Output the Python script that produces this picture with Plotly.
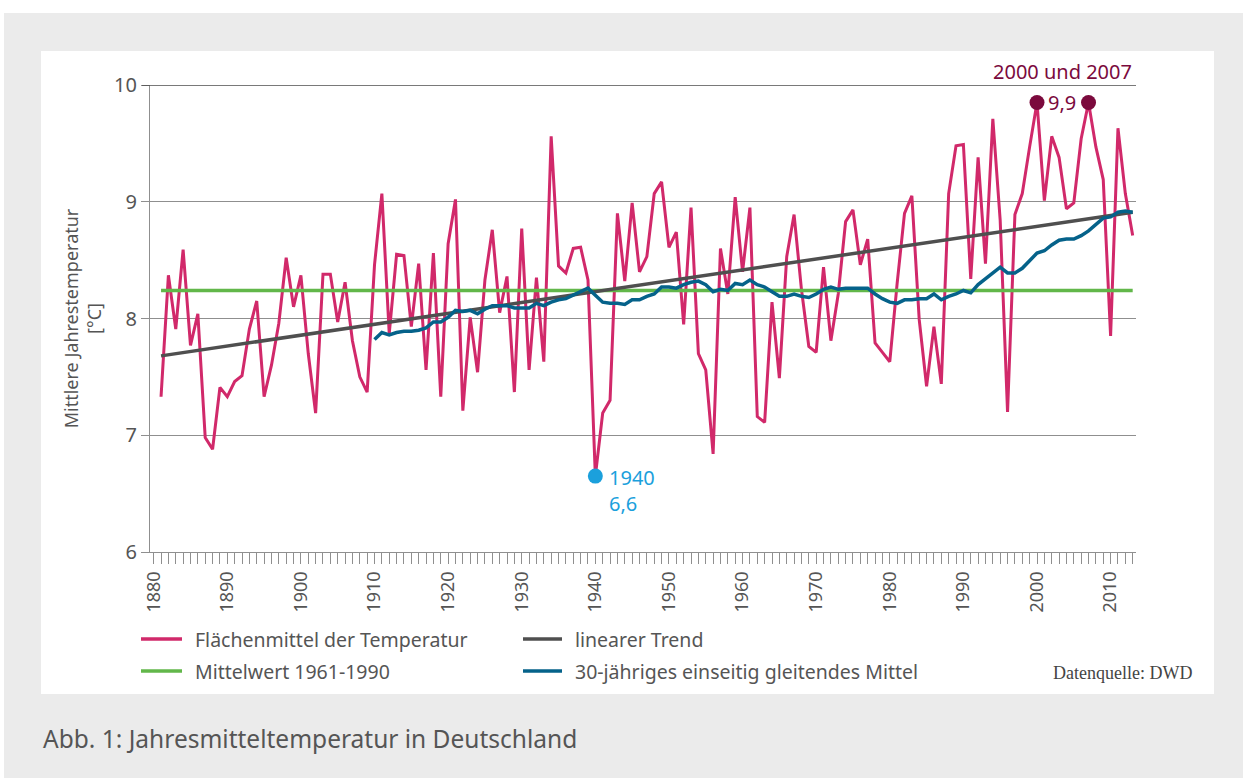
import plotly.graph_objects as go

# ---------------- data ----------------
years = list(range(1881, 2014))
temperature = [
    7.33, 8.37, 7.91, 8.59, 7.77, 8.04, 6.98, 6.88, 7.41, 7.33,   # 1881-1890
    7.46, 7.51, 7.91, 8.15, 7.33, 7.60, 7.96, 8.52, 8.10, 8.37,   # 1891-1900
    7.70, 7.19, 8.38, 8.38, 7.97, 8.31, 7.81, 7.50, 7.37, 8.46,   # 1901-1910
    9.07, 7.87, 8.55, 8.54, 7.93, 8.47, 7.56, 8.56, 7.33, 8.64,   # 1911-1920
    9.02, 7.21, 8.01, 7.54, 8.33, 8.76, 8.05, 8.36, 7.37, 8.77,   # 1921-1930
    7.56, 8.35, 7.63, 9.56, 8.45, 8.39, 8.60, 8.61, 8.33, 6.65,   # 1931-1940
    7.19, 7.30, 8.90, 8.32, 8.99, 8.40, 8.53, 9.07, 9.17, 8.61,   # 1941-1950
    8.74, 7.95, 8.95, 7.70, 7.56, 6.84, 8.60, 8.21, 9.04, 8.40,   # 1951-1960
    8.95, 7.16, 7.11, 8.14, 7.49, 8.53, 8.89, 8.25, 7.76, 7.71,   # 1961-1970
    8.44, 7.81, 8.21, 8.83, 8.93, 8.46, 8.68, 7.79, 7.71, 7.63,   # 1971-1980
    8.30, 8.90, 9.05, 7.99, 7.42, 7.93, 7.44, 9.07, 9.48, 9.49,   # 1981-1990
    8.34, 9.38, 8.47, 9.71, 8.84, 7.20, 8.89, 9.07, 9.47, 9.85,   # 1991-2000
    9.01, 9.56, 9.38, 8.94, 8.99, 9.54, 9.85, 9.47, 9.19, 7.85,   # 2001-2010
    9.63, 9.07, 8.71,                                             # 2011-2013
]

mean_years = list(range(1910, 2014))
running_mean = [
    7.82,                                                          # 1910
    7.88, 7.86, 7.88, 7.89, 7.89, 7.90, 7.92, 7.97, 7.97, 8.01,   # 1911-1920
    8.07, 8.06, 8.07, 8.04, 8.08, 8.11, 8.11, 8.11, 8.09, 8.09,   # 1921-1930
    8.09, 8.13, 8.11, 8.14, 8.16, 8.17, 8.20, 8.23, 8.26, 8.20,   # 1931-1940
    8.14, 8.13, 8.13, 8.12, 8.16, 8.16, 8.19, 8.21, 8.27, 8.27,   # 1941-1950
    8.26, 8.29, 8.31, 8.32, 8.29, 8.23, 8.25, 8.24, 8.30, 8.29,   # 1951-1960
    8.33, 8.29, 8.27, 8.23, 8.19, 8.19, 8.21, 8.19, 8.18, 8.21,   # 1961-1970
    8.25, 8.27, 8.25, 8.26, 8.26, 8.26, 8.26, 8.21, 8.17, 8.14,   # 1971-1980
    8.13, 8.16, 8.16, 8.17, 8.17, 8.21, 8.16, 8.19, 8.21, 8.24,   # 1981-1990
    8.22, 8.29, 8.34, 8.39, 8.44, 8.39, 8.39, 8.43, 8.49, 8.56,   # 1991-2000
    8.58, 8.63, 8.67, 8.68, 8.68, 8.71, 8.75, 8.81, 8.86, 8.87,   # 2001-2010
    8.91, 8.92, 8.91,                                             # 2011-2013
]

trend_years = [1881, 2013]
trend_values = [7.68, 8.91]

reference_years = [1881, 2013]
reference_mean = [8.24, 8.24]   # Mittelwert 1961-1990

min_year = [1940]
min_value = [6.65]
max_years = [2000, 2007]
max_values = [9.85, 9.85]

x_tick_labels = [str(y) for y in range(1880, 2011, 10)]
y_tick_labels = ["6", "7", "8", "9", "10"]

legend_labels = [
    "Flächenmittel der Temperatur",
    "Mittelwert 1961-1990",
    "linearer Trend",
    "30-jähriges einseitig gleitendes Mittel",
]

assert len(years) == len(temperature)
assert len(mean_years) == len(running_mean)

# ---------------- styling ----------------
PINK = "#d1296a"
GREEN = "#62b74a"
TREND = "#4f4f4f"
BLUE = "#05628a"
LIGHTBLUE = "#1ba0dc"
MAROON = "#7b0a3d"
TEXT = "#555555"
GRID = "#8f8f8f"
FONT = "Noto Sans"

W, H = 1243, 778
L, R, T, B = 150, 1243 - 1136, 85, 778 - 552
PW, PH = W - L - R, H - T - B


def px(x):
    return (x - L) / PW


def py(y):
    return (H - B - y) / PH


fig = go.Figure()

fig.add_trace(go.Scatter(x=years, y=temperature, mode="lines",
                         line=dict(color=PINK, width=3), name=legend_labels[0],
                         showlegend=False))
fig.add_trace(go.Scatter(x=reference_years, y=reference_mean, mode="lines",
                         line=dict(color=GREEN, width=3.5), name=legend_labels[1],
                         showlegend=False))
fig.add_trace(go.Scatter(x=trend_years, y=trend_values, mode="lines",
                         line=dict(color=TREND, width=3.5), name=legend_labels[2],
                         showlegend=False))
fig.add_trace(go.Scatter(x=mean_years, y=running_mean, mode="lines",
                         line=dict(color=BLUE, width=3.5), name=legend_labels[3],
                         showlegend=False))
fig.add_trace(go.Scatter(x=min_year, y=min_value, mode="markers",
                         marker=dict(color=LIGHTBLUE, size=15), showlegend=False))
fig.add_trace(go.Scatter(x=max_years, y=max_values, mode="markers",
                         marker=dict(color=MAROON, size=15), showlegend=False))

shapes = []
# outer gray frame and white panel
shapes.append(dict(type="rect", xref="paper", yref="paper", layer="below",
                   x0=px(4), x1=px(W + 2), y0=py(13), y1=py(H + 2),
                   fillcolor="#ebebeb", line=dict(width=0)))
shapes.append(dict(type="rect", xref="paper", yref="paper", layer="below",
                   x0=px(41), x1=px(1214), y0=py(51), y1=py(694),
                   fillcolor="#ffffff", line=dict(width=0)))
# dark top gridline at 10
shapes.append(dict(type="line", xref="paper", yref="y", layer="above",
                   x0=px(142), x1=1, y0=10, y1=10,
                   line=dict(color="#4d4d4d", width=1.6)))

# legend lines
legend_rows = [639, 671]
legend_cols = [(141, 182, 193), (523, 562, 573)]
legend_colors = [PINK, GREEN, TREND, BLUE]
annotations = []
for i, label in enumerate(legend_labels):
    col = i // 2
    row = i % 2
    x0, x1, xt = legend_cols[col]
    y = legend_rows[row]
    shapes.append(dict(type="line", xref="paper", yref="paper",
                       x0=px(x0), x1=px(x1), y0=py(y), y1=py(y),
                       line=dict(color=legend_colors[i], width=3.5)))
    annotations.append(dict(text=label, xref="paper", yref="paper",
                            x=px(xt), y=py(y), xanchor="left", yanchor="middle",
                            showarrow=False, font=dict(family=FONT, size=19.5, color=TEXT)))

annotations += [
    dict(text="Datenquelle: DWD", xref="paper", yref="paper", x=px(1194), y=py(673),
         xanchor="right", yanchor="middle", showarrow=False,
         font=dict(family="Liberation Serif", size=18, color="#444444")),
    dict(text="Abb. 1: Jahresmitteltemperatur in Deutschland", xref="paper", yref="paper",
         x=px(41), y=py(738), xanchor="left", yanchor="middle", showarrow=False,
         font=dict(family=FONT, size=24.5, color=TEXT)),
    dict(text="1940", xref="paper", yref="paper", x=px(607), y=py(477),
         xanchor="left", yanchor="middle", showarrow=False,
         font=dict(family=FONT, size=20, color=LIGHTBLUE)),
    dict(text="6,6", xref="paper", yref="paper", x=px(607), y=py(503),
         xanchor="left", yanchor="middle", showarrow=False,
         font=dict(family=FONT, size=20, color=LIGHTBLUE)),
    dict(text="9,9", xref="paper", yref="paper", x=px(1062), y=py(102),
         xanchor="center", yanchor="middle", showarrow=False,
         font=dict(family=FONT, size=20, color=MAROON)),
    dict(text="2000 und 2007", xref="paper", yref="paper", x=px(1134), y=py(71),
         xanchor="right", yanchor="middle", showarrow=False,
         font=dict(family=FONT, size=20, color=MAROON)),
]

fig.update_layout(
    width=W, height=H, autosize=False,
    margin=dict(l=L, r=R, t=T, b=B, pad=0),
    paper_bgcolor="#ffffff", plot_bgcolor="rgba(0,0,0,0)",
    showlegend=False,
    shapes=shapes, annotations=annotations,
    font=dict(family=FONT, color=TEXT),
    xaxis=dict(
        range=[1879.5, 2013.45], tickmode="array",
        tickvals=[int(t) for t in x_tick_labels], ticktext=x_tick_labels,
        tickangle=-90, tickfont=dict(family=FONT, size=18, color=TEXT),
        ticks="outside", ticklen=11, tickwidth=1, tickcolor=GRID,
        minor=dict(dtick=1, tick0=1880, ticks="outside", ticklen=11,
                   tickwidth=1, tickcolor=GRID, showgrid=False),
        showgrid=False, zeroline=False,
        showline=True, linecolor=GRID, linewidth=1.3,
    ),
    yaxis=dict(
        range=[6, 10], tickmode="array",
        tickvals=[int(t) for t in y_tick_labels], ticktext=y_tick_labels,
        tickfont=dict(family=FONT, size=20, color=TEXT),
        ticks="outside", ticklen=8, tickwidth=1.3, tickcolor=GRID,
        showgrid=True, gridcolor=GRID, gridwidth=1.3, zeroline=False,
        showline=True, linecolor=GRID, linewidth=1.3,
        title=dict(text="Mittlere Jahrestemperatur<br>[°C]",
                   font=dict(family=FONT, size=18, color=TEXT), standoff=7),
    ),
)

fig.write_html("out.html",
               config={"displayModeBar": False},
               post_script="document.body.style.margin='0';document.body.style.overflow='hidden';")
